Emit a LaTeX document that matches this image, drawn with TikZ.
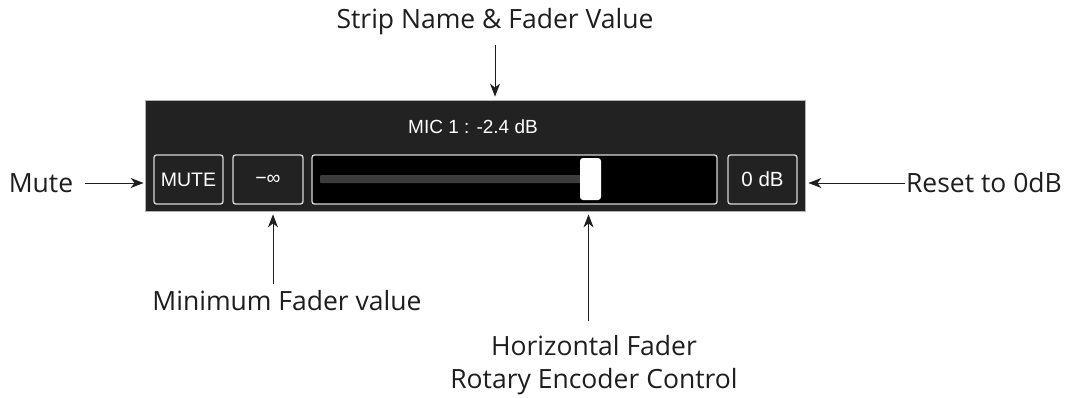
\documentclass[tikz,border=0pt]{standalone}
\usepackage{fontspec}
\setmainfont{Open Sans}
\newfontfamily\panelfont{Liberation Sans}
\usetikzlibrary{arrows.meta}
\definecolor{paneldark}{HTML}{222222}
\definecolor{trackgray}{HTML}{3C3C3C}
\definecolor{btnedge}{HTML}{D8D8D8}
\definecolor{labelink}{HTML}{1E1E1E}
\tikzset{
  lbl/.style={font=\fontsize{26.5}{33}\selectfont, text=labelink, inner sep=0pt, align=center},
  btn/.style={draw=btnedge, line width=1.3pt, rounded corners=2.5pt, minimum height=49pt, inner sep=0pt, font=\panelfont\fontsize{19.5}{19.5}\selectfont, text=white},
  arr/.style={-{Stealth[length=13pt,width=10pt,inset=4pt]}, line width=1pt, draw=labelink},
}
\begin{document}
\begin{tikzpicture}[x=1pt,y=-1pt]
\useasboundingbox[fill=white] (0,0) rectangle (1068,397);
% panel
\node[draw=gray!60, line width=0.8pt, fill=paneldark, minimum width=660pt, minimum height=111pt, inner sep=0pt] (panel) at (475,155.5) {};
\node[font=\panelfont\fontsize{19}{19}\selectfont, text=white, inner sep=0pt] (mic) at (473,127) {MIC 1 : -2.4 dB};
\node[btn, fill=paneldark, minimum width=69pt] (mute) at (188.5,179.5) {MUTE};
\node[btn, fill=paneldark, minimum width=70pt] (minus) at (268,179.5) {−∞};
\node[btn, fill=black, minimum width=405pt] (fader) at (514.5,179.5) {};
\node[fill=trackgray, minimum width=262pt, minimum height=8pt, inner sep=0pt, rounded corners=1pt] (track) at (451,179) {};
\node[fill=white, minimum width=21pt, minimum height=42pt, inner sep=0pt, rounded corners=3pt] (knob) at (590.5,179) {};
\node[btn, fill=paneldark, minimum width=69pt, font=\panelfont\fontsize{20.5}{20.5}\selectfont] (zero) at (762.5,179.5) {0 dB};
% labels
\node[lbl] (strip) at (495,22) {Strip Name \& Fader Value};
\node[lbl] (mutelbl) at (41,183) {Mute};
\node[lbl] (resetlbl) at (984,183) {Reset to 0dB};
\node[lbl] (minlbl) at (287,301) {Minimum Fader value};
\node[lbl] (hflbl) at (594,365) {Horizontal Fader\\Rotary Encoder Control};
% connectors
\coordinate (stripend) at ([yshift=3pt]panel.north -| strip.south);
\draw[arr] ([yshift=52pt]stripend) -- (stripend);
\draw[arr] ([xshift=12pt]mutelbl.east) -- ([xshift=-1pt]panel.west |- mutelbl.east);
\draw[arr] ([xshift=-1pt]resetlbl.west) -- ([xshift=3pt]panel.east |- resetlbl.west);
\coordinate (minend) at ([xshift=5pt,yshift=-3pt]minus.south |- panel.south);
\draw[arr] ([yshift=-70pt]minend) -- (minend);
\coordinate (hfend) at ([xshift=-2pt,yshift=-3pt]knob.south |- panel.south);
\draw[arr] ([yshift=-107pt]hfend) -- (hfend);
\end{tikzpicture}
\end{document}
